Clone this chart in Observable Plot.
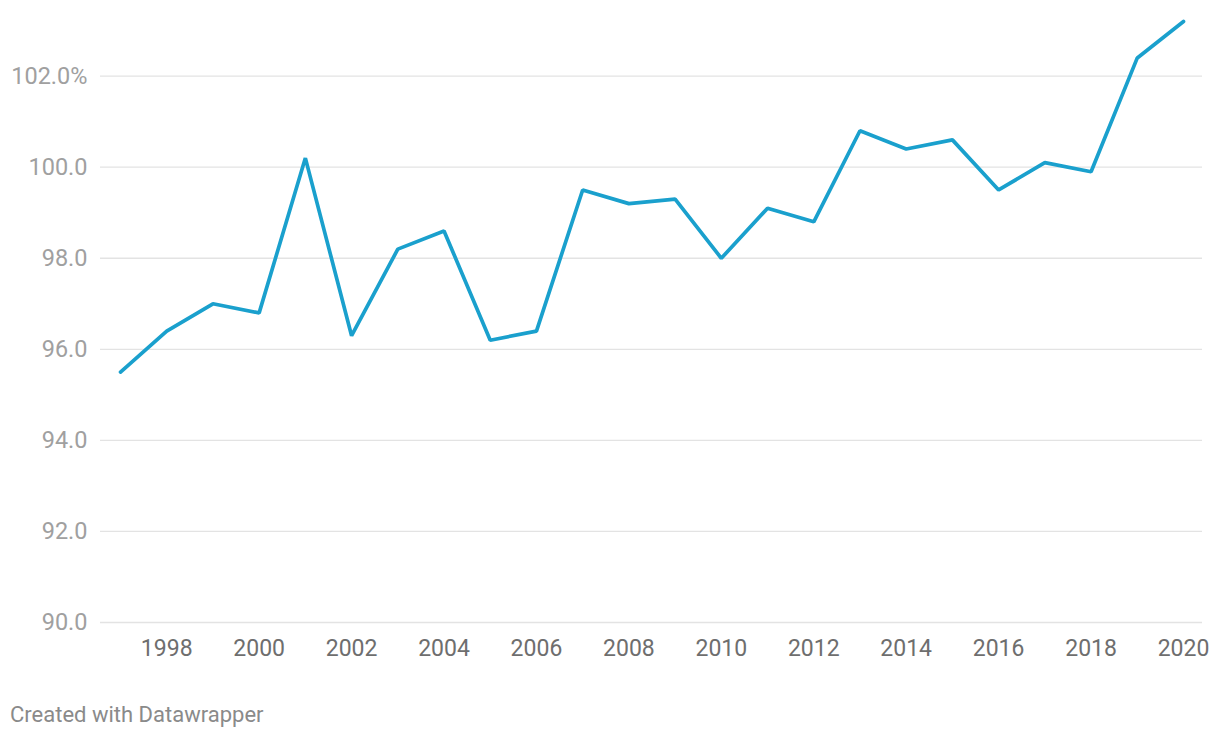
<!DOCTYPE html>
<html>
<head>
<meta charset="utf-8">
<script src="https://cdn.jsdelivr.net/npm/d3@7"></script>
<script src="https://cdn.jsdelivr.net/npm/@observablehq/plot@0.6"></script>
<style>
  body { margin: 0; background: #fff; font-family: Roboto, "Noto Sans", sans-serif; }
  #caption { position: absolute; left: 10px; top: 702px; font-size: 22px; line-height: 26px; color: #8a8a8a; font-family: Roboto, sans-serif; }
</style>
</head>
<body>
<div id="chart"></div>
<div id="caption">Created with Datawrapper</div>
<script>
const years = [1997,1998,1999,2000,2001,2002,2003,2004,2005,2006,2007,2008,2009,2010,2011,2012,2013,2014,2015,2016,2017,2018,2019,2020];
const values = [95.5,96.4,97.0,96.8,100.2,96.3,98.2,98.6,96.2,96.4,99.5,99.2,99.3,98.0,99.1,98.8,100.8,100.4,100.6,99.5,100.1,99.9,102.4,103.2];
const yTicks = [90,92,94,96,98,100,102];
const xTicks = [1998,2000,2002,2004,2006,2008,2010,2012,2014,2016,2018,2020];

const data = years.map((y, i) => ({year: y, value: values[i]}));

const chart = Plot.plot({
  width: 1220,
  height: 670,
  marginLeft: 120,
  marginRight: 37,
  marginTop: 21,
  marginBottom: 48,
  style: {fontFamily: "Roboto, sans-serif", background: "#fff"},
  x: {domain: [1997, 2020], label: null},
  y: {domain: [90, 103.2], label: null},
  marks: [
    Plot.ruleY(yTicks, {y: d => d, stroke: "#e3e3e3", strokeWidth: 1.3, insetLeft: -20, insetRight: -19}),
    Plot.axisY({ticks: yTicks, tickSize: 0, tickPadding: 33, fontSize: 23.5, fill: "#a0a0a0", label: null,
      tickFormat: d => d === 102 ? "102.0%" : d.toFixed(1)}),
    Plot.axisX({ticks: xTicks, tickSize: 0, tickPadding: 17, fontSize: 23, fill: "#6e6e6e", label: null, tickFormat: d => String(d)}),
    Plot.line(data, {x: "year", y: "value", stroke: "#1aa0cd", strokeWidth: 3.7, strokeLinejoin: "miter", strokeLinecap: "round"})
  ]
});
document.getElementById("chart").append(chart);
</script>
</body>
</html>
